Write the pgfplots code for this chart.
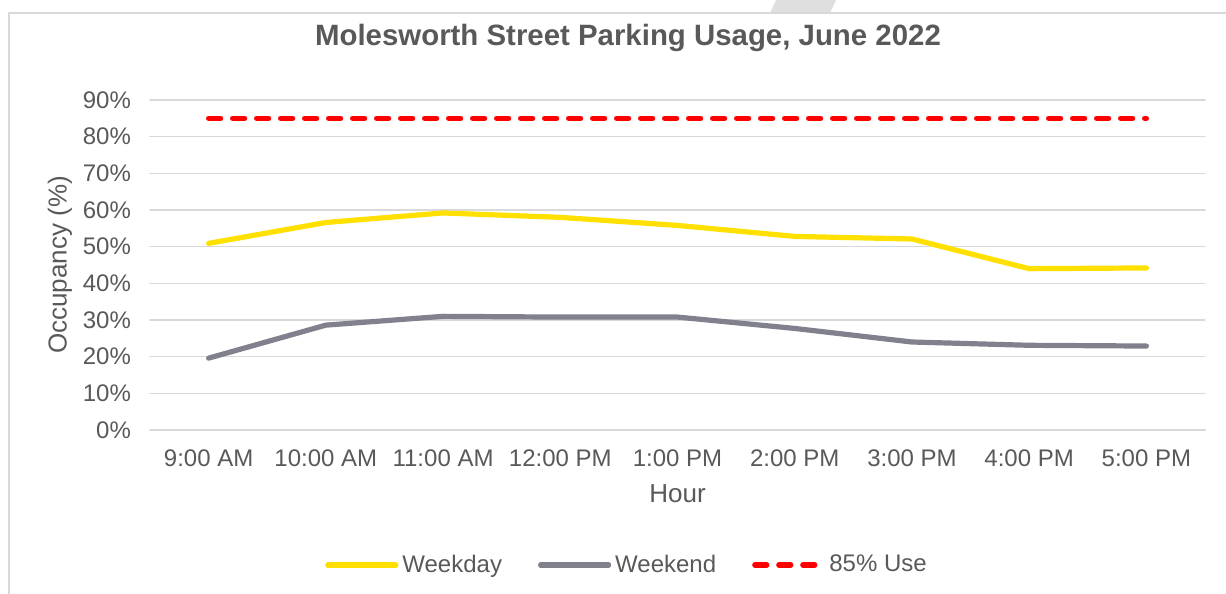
\documentclass[border=0pt]{standalone}
\usepackage{pgfplots}
\pgfplotsset{compat=1.18}
\usepackage{fontspec}
\setmainfont{Liberation Sans}
\definecolor{weekdayC}{HTML}{FFE000}
\definecolor{weekendC}{HTML}{80818C}
\definecolor{limitC}{HTML}{FF0000}
\definecolor{inkMuted}{HTML}{595959}
\definecolor{gridLine}{HTML}{D9D9D9}

\pgfplotstableread{
idx weekday weekend limit
0   50.9    19.6    85
1   56.6    28.6    85
2   59.2    31.0    85
3   58.0    30.8    85
4   55.8    30.8    85
5   52.8    27.7    85
6   52.1    24.0    85
7   44.0    23.1    85
8   44.2    22.9    85
}\parking

\begin{document}
\begin{tikzpicture}
% page extent and chart-area frame
\path[use as bounding box] (-75pt,-82pt) rectangle (538pt,215pt);
\fill[gray!25] (313pt,215pt) -- (343pt,215pt) -- (340pt,208.5pt) -- (310pt,208.5pt) -- cycle;
\draw[gray!30, line width=0.8pt] (-70.5pt,-82pt) -- (-70.5pt,208.5pt) -- (538pt,208.5pt);
\node[font=\bfseries\fontsize{14.7}{17}\selectfont, text=inkMuted] at (239pt,196pt)
  {Molesworth Street Parking Usage, June 2022};
\begin{axis}[
  scale only axis, width=527.5pt, height=165pt,
  xmin=-0.5, xmax=8.5, ymin=0, ymax=90,
  xtick={0,...,8},
  xticklabels={9:00 AM,10:00 AM,11:00 AM,12:00 PM,1:00 PM,2:00 PM,3:00 PM,4:00 PM,5:00 PM},
  ytick={0,10,...,90},
  yticklabel={\pgfmathprintnumber{\tick}\%},
  /pgf/number format/assume math mode=true,
  axis x line*=bottom, axis y line*=left,
  x axis line style={gridLine, line width=0.8pt, -},
  y axis line style={draw=none},
  tick style={draw=none},
  ymajorgrids, major grid style={gridLine, line width=0.8pt},
  tick label style={font=\fontsize{12}{14}\selectfont, text=inkMuted},
  xticklabel style={yshift=-6.5pt},
  yticklabel style={xshift=-6pt},
  xlabel={Hour}, ylabel={Occupancy (\%)},
  label style={font=\fontsize{13}{15}\selectfont, text=inkMuted},
  xlabel style={at={(axis description cs:0.5,-0.194)}, anchor=center},
  ylabel style={at={(axis description cs:-0.0853,0.5)}, anchor=center},
  legend style={draw=none, fill=none, font=\fontsize{12}{14}\selectfont, text=inkMuted,
    at={(239pt,-67.5pt)}, anchor=center, legend columns=-1,
    /tikz/every even column/.append style={column sep=16pt}},
  legend image code/.code={\draw[#1, line cap=round] (0pt,0pt) -- (34pt,0pt);},
  line cap=round, line join=round,
]
\addplot[weekdayC, line width=2.6pt] table[x=idx, y=weekday] {\parking};
\addlegendentry{Weekday}
\addplot[weekendC, line width=2.6pt] table[x=idx, y=weekend] {\parking};
\addlegendentry{Weekend}
\addplot[limitC, line width=2.6pt, dash pattern=on 6pt off 6pt] table[x=idx, y=limit] {\parking};
\addlegendentry{85\% Use}
\end{axis}
\end{tikzpicture}
\end{document}
